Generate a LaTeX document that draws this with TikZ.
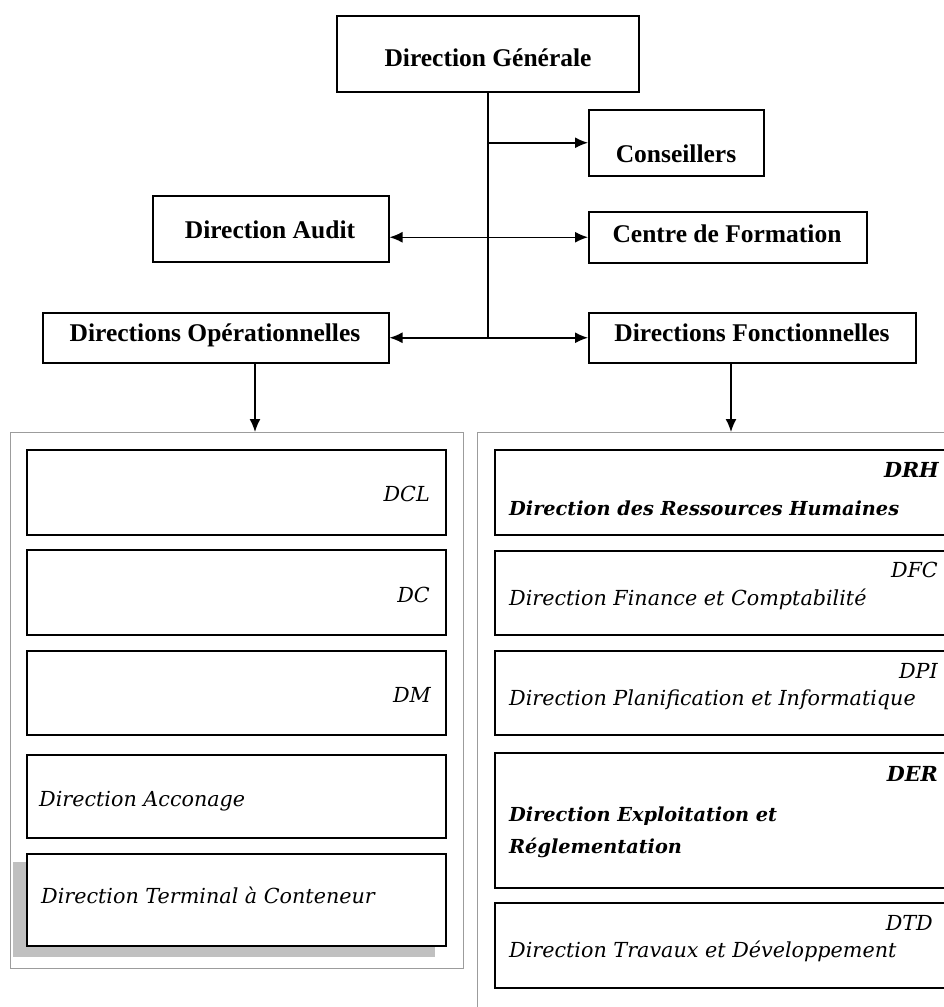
\documentclass[tikz,border=0pt]{standalone}
\usepackage{fontspec}
\setmainfont{Liberation Serif}
\newfontfamily\dvserif{DejaVu Serif}
\usetikzlibrary{arrows.meta}
\definecolor{framegray}{HTML}{9C9C9C}
\definecolor{shadowgray}{HTML}{C0C0C0}
\begin{document}
\begin{tikzpicture}[x=1pt,y=-1pt,
  box/.style={draw=black, line width=1.5pt, fill=white, inner sep=0pt, anchor=north west},
  frame/.style={draw=framegray, line width=1.4pt, inner sep=0pt, anchor=north west},
  conn/.style={line width=1.5pt},
  arr/.style={line width=1.5pt, -{Latex[length=13pt,width=11pt]}},
  darr/.style={line width=1.5pt, {Latex[length=13pt,width=11pt]}-{Latex[length=13pt,width=11pt]}},
  tb/.style={inner sep=0pt, font=\fontsize{25.5}{30}\selectfont\bfseries},
  it/.style={inner sep=0pt, font=\dvserif\fontsize{20.7}{25}\selectfont\itshape},
  bit/.style={inner sep=0pt, font=\dvserif\fontsize{20.7}{25}\selectfont\bfseries\itshape},
  bitl/.style={inner sep=0pt, font=\dvserif\fontsize{19.3}{24}\selectfont\bfseries\itshape}]
\clip (0,0) rectangle (944,1007);
\useasboundingbox (0,0) rectangle (944,1007);
% top boxes
\node[box, minimum width=302pt, minimum height=76pt] (dg) at (336,15) {};
\node[box, minimum width=175pt, minimum height=66pt] (cons) at (588,109) {};
\node[box, minimum width=236pt, minimum height=66pt] (audit) at (152,195) {};
\node[box, minimum width=278pt, minimum height=51pt] (cf) at (588,211) {};
\node[box, minimum width=346pt, minimum height=50pt] (op) at (42,312) {};
\node[box, minimum width=327pt, minimum height=50pt] (fo) at (588,312) {};
\node[tb, anchor=base] (tdg) at (488,66) {Direction Générale};
\node[tb, anchor=base] (tcons) at (676,162) {Conseillers};
\node[tb, anchor=base] (tcf) at (727,242) {Centre de Formation};
\node[tb, anchor=base] (taudit) at (270,238) {Direction Audit};
\node[tb, anchor=base] (top) at (215,341) {Directions Opérationnelles};
\node[tb, anchor=base] (tfo) at (752,341) {Directions Fonctionnelles};
% containers
\node[frame, minimum width=453pt, minimum height=536pt] (lc) at (10,432) {};
\node[frame, minimum width=500pt, minimum height=600pt] (rc) at (477,432) {};
% connectors
\draw[conn] (dg.south) -- (dg.south |- op.east);
\draw[arr] (dg.south |- cons.west) -- (cons.west);
\draw[darr] (audit.east |- cf.west) -- (cf.west);
\draw[darr] (op.east) -- (fo.west);
\coordinate (opd) at (255,362);
\coordinate (fod) at (731,362);
\draw[arr] (opd) -- (opd |- lc.north);
\draw[arr] (fod) -- (fod |- rc.north);
% left inner boxes
\fill[shadowgray] (13,862) rectangle (435,957);
\node[box, minimum width=419pt, minimum height=85pt] (dcl) at (26,449) {};
\node[box, minimum width=419pt, minimum height=85pt] (dc) at (26,549) {};
\node[box, minimum width=419pt, minimum height=84pt] (dm) at (26,650) {};
\node[box, minimum width=419pt, minimum height=83pt] (acc) at (26,754) {};
\node[box, minimum width=419pt, minimum height=92pt] (term) at (26,853) {};
\node[it, anchor=base east] (tdcl) at (430,501) {DCL};
\node[it, anchor=base east] (tdc) at (430,602) {DC};
\node[it, anchor=base east] (tdm) at (431,702) {DM};
\node[it, anchor=base west] (tacc) at (39,806) {Direction Acconage};
\node[it, anchor=base west] (tterm) at (41,903) {Direction Terminal à Conteneur};
% right inner boxes
\node[box, minimum width=480pt, minimum height=85pt] (drh) at (494,449) {};
\node[box, minimum width=480pt, minimum height=84pt] (dfc) at (494,550) {};
\node[box, minimum width=480pt, minimum height=84pt] (dpi) at (494,650) {};
\node[box, minimum width=480pt, minimum height=135pt] (der) at (494,752) {};
\node[box, minimum width=480pt, minimum height=85pt] (dtd) at (494,902) {};
\node[bit, anchor=base east] (tdrh) at (939,477) {DRH};
\node[bitl, anchor=base west] (ldrh) at (509,515) {Direction des Ressources Humaines};
\node[it, anchor=base east] (tdfc) at (938,577) {DFC};
\node[it, anchor=base west] (ldfc) at (509,605) {Direction Finance et Comptabilité};
\node[it, anchor=base east] (tdpi) at (938,678) {DPI};
\node[it, anchor=base west] (ldpi) at (509,705) {Direction Planification et Informatique};
\node[bit, anchor=base east] (tder) at (938,781) {DER};
\node[bitl, anchor=base west] (lder1) at (509,821) {Direction Exploitation et};
\node[bitl, anchor=base west] (lder2) at (509,853) {Réglementation};
\node[it, anchor=base east] (tdtd) at (933,930) {DTD};
\node[it, anchor=base west] (ldtd) at (509,957) {Direction Travaux et Développement};
\end{tikzpicture}
\end{document}
